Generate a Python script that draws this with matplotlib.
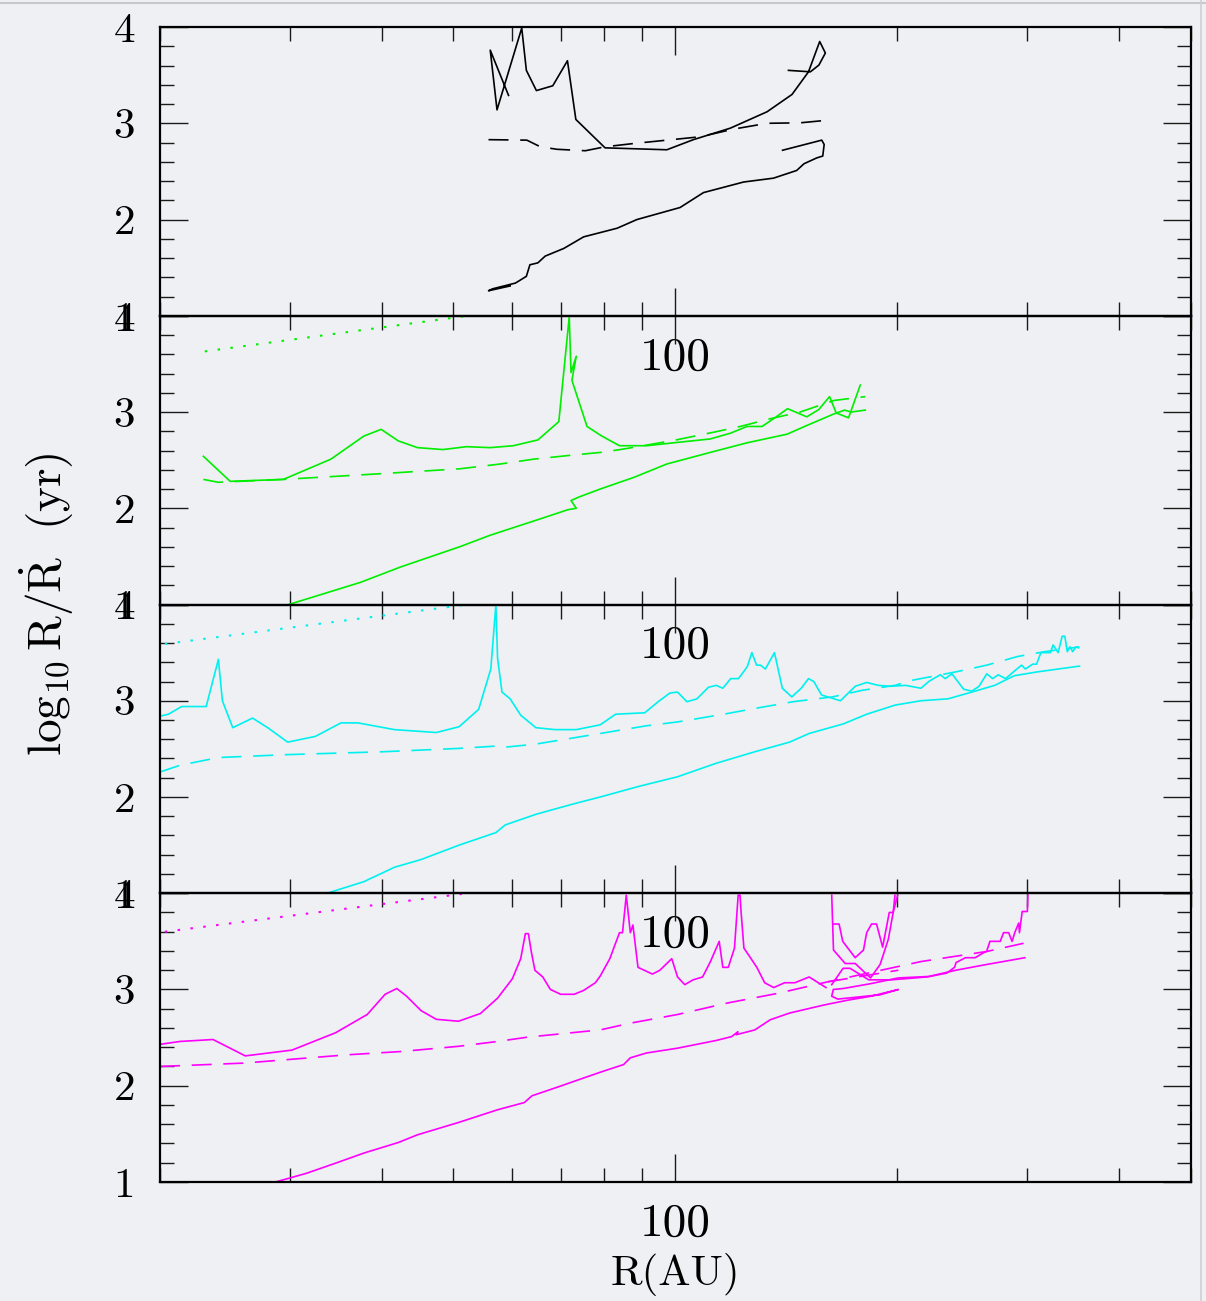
import matplotlib
matplotlib.use("Agg")
import matplotlib.pyplot as plt
import matplotlib.ticker as mticker
from matplotlib.lines import Line2D

# ---- panel 1 (black) ----
p1_up_R = [59.4, 56.1, 57.3, 61.9, 62.8, 64.8, 68.2, 71.4, 73.3, 80.3, 97.4, 105.8, 118.8,
           133.2, 144.0, 151.6, 157.0, 159.8, 156.6, 152.5, 142.4]
p1_up_v = [3.29, 3.76, 3.14, 3.99, 3.55, 3.34, 3.39, 3.65, 3.04, 2.745, 2.725, 2.83, 2.95,
           3.12, 3.30, 3.535, 3.85, 3.73, 3.605, 3.535, 3.55]
p1_dash_R = [55.8, 62.9, 65.6, 69.1, 75.5, 80.3, 87.8, 97.4, 108.1, 120.0, 133.2, 147.7, 159.8]
p1_dash_v = [2.83, 2.825, 2.756, 2.73, 2.715, 2.756, 2.79, 2.825, 2.86, 2.94, 3.0, 3.005, 3.03]
p1_low_R = [59.7, 55.8, 56.5, 60.7, 62.8, 63.5, 65.1, 66.6, 70.6, 75.1, 83.4, 88.7, 101.5, 109.2,
            123.8, 135.9, 146.1, 149.5, 155.5, 158.5, 159.2, 158.0, 139.8]
p1_low_v = [1.31, 1.26, 1.28, 1.34, 1.41, 1.53, 1.55, 1.62, 1.70, 1.82, 1.91, 2.0, 2.125, 2.28,
            2.39, 2.43, 2.51, 2.58, 2.64, 2.66, 2.78, 2.825, 2.72]

# ---- panel 2 (green) ----
p2_dot_R = [23.0, 53.5]
p2_dot_v = [3.63, 4.01]
p2_up_R = [22.9, 24.9, 29.4, 34.1, 37.8, 39.9, 42.1, 44.7, 48.4, 52.1,
           56.1, 60.3, 65.1, 69.5, 71.8, 72.2, 73.4, 72.4, 75.9, 79.5,
           84.0, 91.5, 99.4, 111.5, 118.8, 125.1, 131.1, 135.9, 142.0, 150.8,
           156.5, 161.9, 165.3, 171.8, 178.2]
p2_up_v = [2.54, 2.28, 2.30, 2.51, 2.75, 2.82, 2.70, 2.63, 2.61, 2.64,
           2.63, 2.65, 2.71, 2.90, 3.99, 3.41, 3.58, 3.33, 2.85, 2.75,
           2.65, 2.65, 2.68, 2.72, 2.78, 2.85, 2.85, 2.93, 3.035, 2.95,
           3.025, 3.16, 2.99, 2.94, 3.28]
p2_dash_R = [22.9, 24.0, 29.4, 40.0, 51.0, 57.9, 64.2, 72.0, 79.1, 84.2, 90.5, 100.2, 112.7,
             122.5, 134.5, 147.7, 164.1, 181.0]
p2_dash_v = [2.30, 2.27, 2.30, 2.36, 2.41, 2.46, 2.51, 2.55, 2.58, 2.61, 2.65, 2.71, 2.79,
             2.85, 2.93, 3.0, 3.12, 3.16]
p2_low_R = [29.9, 37.4, 42.4, 51.0, 56.1, 65.6, 71.5, 73.4, 72.2, 73.9, 79.1, 87.8, 97.4,
            111.5, 125.1, 141.8, 150.8, 164.1, 169.7, 173.2, 181.0]
p2_low_v = [1.0, 1.23, 1.39, 1.60, 1.72, 1.89, 1.985, 2.0, 2.08, 2.115, 2.20, 2.32, 2.46,
            2.58, 2.68, 2.77, 2.86, 2.98, 3.02, 3.0, 3.02]

# ---- panel 3 (cyan) ----
p3_dot_R = [20.3, 53.5]
p3_dot_v = [3.59, 4.01]
p3_up_R = [20.0, 20.53, 21.4, 23.1, 24.0, 24.3, 25.1, 26.7, 28.0, 29.8,
           32.5, 35.2, 37.1, 41.6, 47.4, 50.9, 54.1, 56.2, 57.1, 57.4,
           58.2, 59.7, 61.7, 64.7, 68.7, 73.4, 79.1, 83.0, 90.9, 94.8,
           98.3, 100.7, 103.7, 107.0, 110.9, 113.6, 116.0, 118.9, 121.8, 124.3,
           125.3, 127.0, 128.9, 130.5, 132.5, 136.3, 139.7, 143.9, 148.2, 151.6,
           154.1, 157.9, 167.5, 175.4, 181.8, 188.6, 195.6, 205.2, 215.4, 220.7,
           228.8, 232.4, 237.3, 246.1, 252.5, 258.2, 264.6, 269.5, 274.3, 280.5,
           294.9, 298.5, 305.3, 309.0, 313.3, 322.7, 325.5, 330.6, 334.8, 337.6,
           340.2, 343.1, 346.0, 349.4, 352.3]
p3_up_v = [2.84, 2.86, 2.94, 2.94, 3.43, 3.0, 2.72, 2.82, 2.72, 2.57,
           2.63, 2.77, 2.77, 2.70, 2.67, 2.73, 2.91, 3.33, 4.0, 3.44,
           3.09, 3.02, 2.85, 2.72, 2.70, 2.70, 2.75, 2.86, 2.875, 2.99,
           3.08, 3.09, 2.99, 3.02, 3.14, 3.16, 3.13, 3.23, 3.23, 3.32,
           3.36, 3.50, 3.37, 3.37, 3.33, 3.50, 3.13, 3.04, 3.13, 3.23,
           3.20, 3.06, 3.0, 3.15, 3.19, 3.16, 3.15, 3.16, 3.13, 3.20,
           3.27, 3.23, 3.28, 3.12, 3.10, 3.15, 3.28, 3.23, 3.27, 3.23,
           3.37, 3.33, 3.38, 3.38, 3.50, 3.50, 3.58, 3.50, 3.67, 3.67,
           3.51, 3.56, 3.51, 3.56, 3.55]
p3_dash_R = [20.0, 21.3, 24.0, 29.7, 40.1, 50.9, 57.4, 59.2, 64.7, 79.1, 91.4, 100.7, 116.3,
             128.2, 144.5, 163.4, 179.7, 198.7, 208.6, 240.2, 264.6, 291.4, 317.0, 353.4]
p3_dash_v = [2.26, 2.33, 2.41, 2.44, 2.47, 2.505, 2.53, 2.52, 2.55, 2.66, 2.74, 2.78, 2.86,
             2.92, 2.99, 3.04, 3.11, 3.16, 3.21, 3.30, 3.37, 3.46, 3.51, 3.56]
p3_low_R = [33.7, 37.8, 41.6, 45.2, 50.9, 57.1, 58.8, 64.7, 72.9, 79.1, 89.2, 100.7, 113.6,
            128.2, 142.9, 151.9, 169.1, 181.8, 198.7, 215.4, 234.4, 252.5, 271.2, 288.3,
            309.8, 353.4]
p3_low_v = [1.0, 1.12, 1.27, 1.35, 1.50, 1.63, 1.71, 1.82, 1.93, 2.0, 2.11, 2.21, 2.35,
            2.47, 2.57, 2.66, 2.76, 2.86, 2.955, 3.0, 3.02, 3.09, 3.16, 3.26, 3.30, 3.36]

# ---- panel 4 (magenta) ----
p4_dot_R = [20.3, 53.5]
p4_dot_v = [3.60, 4.01]
p4_up_R = [20.0, 21.3, 23.6, 26.1, 30.2, 34.6, 38.2, 40.4, 41.9, 43.2,
           45.2, 47.4, 50.8, 54.4, 57.4, 60.1, 61.7, 62.6, 63.2, 63.8,
           64.5, 66.1, 67.7, 69.9, 72.9, 75.1, 77.9, 79.1, 81.5, 84.0,
           84.8, 85.8, 86.9, 87.6, 89.0, 93.1, 95.3, 98.9, 100.7, 103.0,
           105.7, 108.9, 111.6, 114.7, 116.0, 118.0, 120.3, 121.7, 122.4, 122.8,
           123.9, 126.7, 129.0, 132.2, 136.0, 140.7, 145.3, 151.9, 160.1]
p4_up_v = [2.43, 2.46, 2.48, 2.31, 2.37, 2.55, 2.74, 2.95, 3.01, 2.93,
           2.78, 2.69, 2.67, 2.75, 2.91, 3.11, 3.32, 3.58, 3.58, 3.385,
           3.20, 3.13, 3.0, 2.95, 2.95, 2.99, 3.07, 3.14, 3.32, 3.59,
           3.59, 3.98, 3.59, 3.67, 3.23, 3.16, 3.20, 3.32, 3.13, 3.05,
           3.10, 3.13, 3.29, 3.50, 3.23, 3.23, 3.43, 3.98, 3.98, 3.81,
           3.43, 3.32, 3.23, 3.07, 3.02, 3.07, 3.07, 3.13, 3.02]
p4_u2_R = [163.0, 163.9, 170.0, 175.4, 184.0, 189.6, 194.5, 197.6, 200.3]
p4_u2_v = [3.98, 3.41, 3.27, 3.27, 3.12, 3.26, 3.52, 3.81, 3.98]
p4_u3_R = [163.6, 165.3, 166.8, 168.7, 175.4, 180.0, 181.8, 184.6, 187.5, 191.1, 195.1,
           197.5, 198.6]
p4_u3_v = [3.68, 3.68, 3.68, 3.50, 3.33, 3.41, 3.59, 3.68, 3.68, 3.44, 3.80, 3.80, 3.98]
p4_u4_R = [163.0, 168.9, 172.6, 183.0, 196.2, 219.4, 233.5, 239.2, 240.4, 247.5, 255.1, 261.7,
           264.4, 267.2, 275.9, 278.8, 283.3, 286.3, 288.7, 292.3, 293.0, 295.5, 300.3, 300.8]
p4_u4_v = [3.05, 3.22, 3.22, 3.10, 3.10, 3.13, 3.17, 3.23, 3.28, 3.33, 3.33, 3.38,
           3.395, 3.50, 3.50, 3.59, 3.59, 3.50, 3.59, 3.69, 3.59, 3.81, 3.81, 3.98]
p4_dash_R = [20.0, 26.0, 35.7, 42.4, 50.9, 57.4, 63.1, 79.1, 86.9, 100.7, 117.8, 137.8, 161.1,
             215.4, 264.6, 296.8]
p4_dash_v = [2.20, 2.235, 2.32, 2.355, 2.41, 2.46, 2.505, 2.58, 2.65, 2.74, 2.86, 2.96, 3.08,
             3.29, 3.395, 3.48]
p4_dash2_R = [161.1, 200.7]
p4_dash2_v = [3.08, 3.20]
p4_low_R = [28.7, 31.6, 34.6, 37.8, 42.1, 44.7, 50.9, 57.4, 62.4, 63.9,
            69.5, 73.8, 79.1, 85.1, 86.9, 91.4, 100.7, 113.6, 119.2, 121.6,
            121.0, 128.2, 134.5, 142.9, 159.4, 171.7, 184.3, 200.7, 189.6, 166.1,
            163.0, 163.8, 169.0, 184.0, 200.7, 220.7, 240.2, 264.6, 298.0]
p4_low_v = [1.0, 1.09, 1.195, 1.30, 1.41, 1.49, 1.62, 1.75, 1.825, 1.895,
            1.99, 2.06, 2.14, 2.22, 2.29, 2.34, 2.39, 2.47, 2.51, 2.56,
            2.53, 2.58, 2.685, 2.755, 2.84, 2.89, 2.93, 3.0, 2.945, 2.90,
            2.93, 3.0, 3.01, 3.06, 3.12, 3.135, 3.20, 3.26, 3.33]

x_minor = [20, 30, 40, 50, 60, 70, 80, 90, 200, 300, 400, 500]
y_major = [1, 2, 3, 4]

plt.rcParams['font.family'] = ['cmr10', 'DejaVu Serif']
plt.rcParams['mathtext.fontset'] = 'cm'
plt.rcParams['axes.unicode_minus'] = False
plt.rcParams['axes.formatter.use_mathtext'] = True

bg = '#eef0f3'
fig = plt.figure(figsize=(12.06, 13.01), dpi=100, facecolor=bg)
axs = fig.subplots(4, 1, gridspec_kw=dict(hspace=0))
fig.subplots_adjust(left=0.1327, right=0.9872, top=0.9792, bottom=0.0915)

DASH = (0, (12, 7))
DOT = (0, (1.2, 5))
lw = 1.2

panels = [
    ('black', [(p1_up_R, p1_up_v, '-'), (p1_dash_R, p1_dash_v, DASH),
               (p1_low_R, p1_low_v, '-')]),
    ('#00ee00', [(p2_dot_R, p2_dot_v, DOT), (p2_up_R, p2_up_v, '-'),
                 (p2_dash_R, p2_dash_v, DASH), (p2_low_R, p2_low_v, '-')]),
    ('#00f0f0', [(p3_dot_R, p3_dot_v, DOT), (p3_up_R, p3_up_v, '-'),
                 (p3_dash_R, p3_dash_v, DASH), (p3_low_R, p3_low_v, '-')]),
    ('#ff00ff', [(p4_dot_R, p4_dot_v, DOT), (p4_up_R, p4_up_v, '-'),
                 (p4_u2_R, p4_u2_v, '-'), (p4_u3_R, p4_u3_v, '-'),
                 (p4_u4_R, p4_u4_v, '-'), (p4_dash_R, p4_dash_v, DASH),
                 (p4_dash2_R, p4_dash2_v, DASH), (p4_low_R, p4_low_v, '-')]),
]

for ax, (col, lines) in zip(axs, panels):
    ax.set_facecolor('none')
    for R, v, ls in lines:
        w = 1.5 if ls is DOT else lw
        ax.plot(R, v, color=col, lw=w, linestyle=ls)
    ax.set_xscale('log')
    ax.set_xlim(20, 500)
    ax.set_ylim(1, 4)
    ax.set_xticks([100])
    ax.set_xticklabels(['100'])
    ax.xaxis.set_minor_locator(mticker.FixedLocator(x_minor))
    ax.xaxis.set_minor_formatter(mticker.NullFormatter())
    ax.set_yticks(y_major)
    ax.set_yticklabels([str(t) for t in y_major])
    ax.yaxis.set_minor_locator(mticker.MultipleLocator(0.2))
    ax.tick_params(which='both', direction='in', top=True, right=True, width=1.0,
                   color='#1a1a1a')
    ax.tick_params(which='major', length=20)
    ax.tick_params(which='minor', length=10)
    ax.tick_params(axis='y', labelsize=31, pad=18)
    ax.tick_params(axis='x', labelsize=34, pad=15)
    for s in ax.spines.values():
        s.set_linewidth(1.6)

axs[3].set_xlabel('R(AU)', fontsize=31, labelpad=6)
fig.text(0.039, 0.5354, r'$\log_{10}\mathrm{R}/\dot{\mathrm{R}}\ \ \mathrm{(yr)}$',
         rotation=90, ha='center', va='center', fontsize=34)

# slide frame
fig.add_artist(Line2D([0, 1], [0.9975, 0.9975], transform=fig.transFigure,
                      color='#c8c8cc', lw=1.5))
fig.add_artist(Line2D([0.9962, 0.9962], [0, 1], transform=fig.transFigure,
                      color='#d0d0d4', lw=1.2))

fig.savefig('out.png', dpi=100, facecolor=bg)
